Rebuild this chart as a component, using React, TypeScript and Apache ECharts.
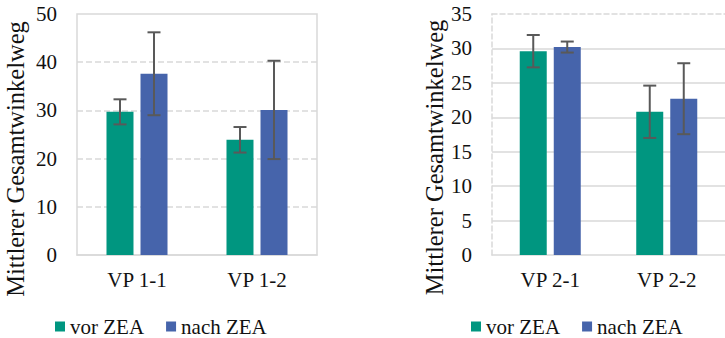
import React, { useEffect, useRef } from "react";
import * as echarts from "echarts";

const categoriesLeft = ["VP 1-1", "VP 1-2"];
const categoriesRight = ["VP 2-1", "VP 2-2"];
const seriesNames = ["vor ZEA", "nach ZEA"];

const vorLeft = [29.7, 23.9];
const nachLeft = [37.6, 30.1];
const vorLeftErr = [2.6, 2.65];
const nachLeftErr = [8.6, 10.2];

const vorRight = [29.6, 20.8];
const nachRight = [30.2, 22.7];
const vorRightErr = [2.35, 3.8];
const nachRightErr = [0.8, 5.15];

const yTitle = "Mittlerer Gesamtwinkelweg";

const FONT = "Liberation Serif";
const GREEN = "#009680";
const BLUE = "#4664AB";
const GRID_C = "#d9d9d9";
const ERR_C = "#595959";
const BAR_W = 27;
const BAR_GAP = 7;

const errData = (vals: number[], errs: number[]) =>
  vals.map((v, i) => [i, v - errs[i], v + errs[i]]);

const makeErrRender = (sign: number) => (params: any, api: any) => {
  const cat = api.value(0);
  const lo = api.coord([cat, api.value(1)]);
  const hi = api.coord([cat, api.value(2)]);
  const x = lo[0] + (sign * (BAR_W + BAR_GAP)) / 2;
  const cap = 6.5;
  const style = { stroke: ERR_C, lineWidth: 2 };
  return {
    type: "group",
    children: [
      { type: "line", shape: { x1: x, y1: lo[1], x2: x, y2: hi[1] }, style },
      { type: "line", shape: { x1: x - cap, y1: hi[1], x2: x + cap, y2: hi[1] }, style },
      { type: "line", shape: { x1: x - cap, y1: lo[1], x2: x + cap, y2: lo[1] }, style },
    ],
  };
};

export default function App() {
  const ref = useRef<HTMLDivElement>(null);
  useEffect(() => {
    if (!ref.current) return;
    const chart = echarts.init(ref.current, null, { renderer: "svg" });
    const axisLabel = { fontSize: 21, fontFamily: FONT, color: "#111" };
    chart.setOption({
      animation: false,
      textStyle: { fontFamily: FONT },
      grid: [
        { left: 77, top: 14, width: 240, height: 241, show: true, borderColor: GRID_C, borderWidth: 1.5, containLabel: false },
        { left: 492, top: 14, width: 240, height: 241, show: false, containLabel: false },
      ],
      xAxis: [
        {
          type: "category", gridIndex: 0, data: categoriesLeft,
          axisLine: { lineStyle: { color: GRID_C, width: 1.5 } },
          axisTick: { show: false },
          axisLabel: { ...axisLabel, margin: 14 },
        },
        {
          type: "category", gridIndex: 1, data: categoriesRight,
          axisLine: { lineStyle: { color: GRID_C, width: 1.5 } },
          axisTick: { show: false },
          axisLabel: { ...axisLabel, margin: 14 },
        },
        {
          type: "category", gridIndex: 1, data: categoriesRight, position: "top",
          axisLine: { lineStyle: { color: GRID_C, width: 1.5, type: [5, 3] } },
          axisTick: { show: false },
          axisLabel: { show: false },
        },
      ],
      yAxis: [
        {
          type: "value", gridIndex: 0, min: 0, max: 50, interval: 10,
          axisLine: { show: false },
          axisTick: { show: false },
          axisLabel: { ...axisLabel, margin: 20 },
          splitLine: { show: true, showMinLine: false, showMaxLine: false, lineStyle: { color: GRID_C, width: 1.5, type: [6, 3] } },
        },
        {
          type: "value", gridIndex: 1, min: 0, max: 35, interval: 5,
          axisLine: { show: true, lineStyle: { color: GRID_C, width: 1.5, type: [5, 3] } },
          axisTick: { show: false },
          axisLabel: { ...axisLabel, margin: 20 },
          splitLine: { show: true, showMinLine: false, showMaxLine: false, lineStyle: { color: GRID_C, width: 1.5 } },
        },
      ],
      legend: [
        {
          data: seriesNames, left: 55, top: 316, padding: 0, icon: "rect", itemWidth: 10, itemHeight: 10, itemGap: 22,
          textStyle: { fontSize: 21, fontFamily: FONT, color: "#111" },
          selectedMode: false,
        },
        {
          data: seriesNames, left: 471, top: 316, padding: 0, icon: "rect", itemWidth: 10, itemHeight: 10, itemGap: 22,
          textStyle: { fontSize: 21, fontFamily: FONT, color: "#111" },
          selectedMode: false,
        },
      ],
      graphic: [
        {
          type: "text", x: 15, y: 159, rotation: Math.PI / 2,
          style: { text: yTitle, fontSize: 24.5, fontFamily: FONT, fill: "#111", textAlign: "center", textVerticalAlign: "middle" },
        },
        {
          type: "text", x: 434, y: 157.5, rotation: Math.PI / 2,
          style: { text: yTitle, fontSize: 24.5, fontFamily: FONT, fill: "#111", textAlign: "center", textVerticalAlign: "middle" },
        },
      ],
      series: [
        { name: seriesNames[0], type: "bar", xAxisIndex: 0, yAxisIndex: 0, data: vorLeft, barWidth: BAR_W, barGap: "26%", itemStyle: { color: GREEN } },
        { name: seriesNames[1], type: "bar", xAxisIndex: 0, yAxisIndex: 0, data: nachLeft, barWidth: BAR_W, barGap: "26%", itemStyle: { color: BLUE } },
        { name: seriesNames[0], type: "bar", xAxisIndex: 1, yAxisIndex: 1, data: vorRight, barWidth: BAR_W, barGap: "26%", itemStyle: { color: GREEN } },
        { name: seriesNames[1], type: "bar", xAxisIndex: 1, yAxisIndex: 1, data: nachRight, barWidth: BAR_W, barGap: "26%", itemStyle: { color: BLUE } },
        { type: "custom", xAxisIndex: 0, yAxisIndex: 0, data: errData(vorLeft, vorLeftErr), renderItem: makeErrRender(-1), z: 10, silent: true },
        { type: "custom", xAxisIndex: 0, yAxisIndex: 0, data: errData(nachLeft, nachLeftErr), renderItem: makeErrRender(1), z: 10, silent: true },
        { type: "custom", xAxisIndex: 1, yAxisIndex: 1, data: errData(vorRight, vorRightErr), renderItem: makeErrRender(-1), z: 10, silent: true },
        { type: "custom", xAxisIndex: 1, yAxisIndex: 1, data: errData(nachRight, nachRightErr), renderItem: makeErrRender(1), z: 10, silent: true },
      ],
    });
    return () => chart.dispose();
  }, []);
  return (
    <div
      ref={ref}
      style={{ position: "absolute", left: 0, top: 0, width: 725, height: 338, background: "#fff" }}
    />
  );
}
